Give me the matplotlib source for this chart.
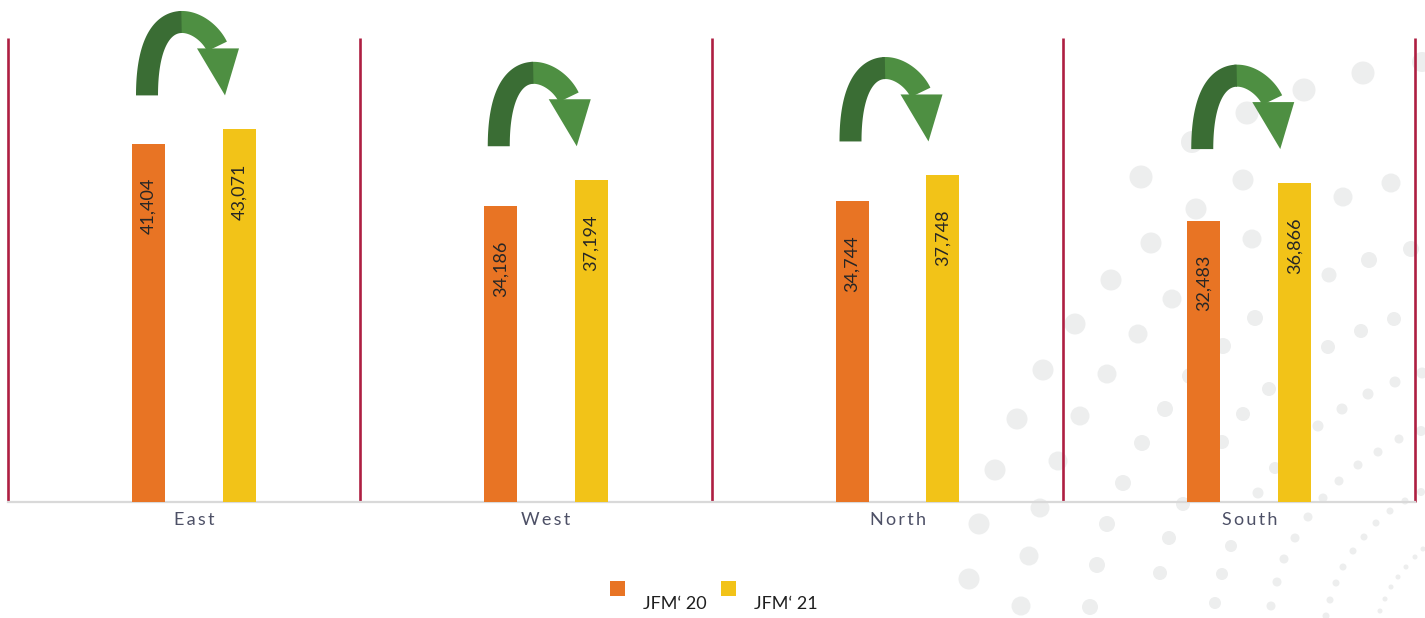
import matplotlib.pyplot as plt
import numpy as np
from matplotlib.patches import Rectangle

plt.rcParams['font.family'] = ['Lato', 'DejaVu Sans']

regions = ['East', 'West', 'North', 'South']
jfm20 = [41404, 34186, 34744, 32483]
jfm21 = [43071, 37194, 37748, 36866]
series_names = ['JFM\u2018 20', 'JFM\u2018 21']

c20 = '#E87424'
c21 = '#F2C318'
line_col = '#AE1F42'
dark_green = '#3A6D34'
light_green = '#4E8F42'
dot_col = '#EDEEEE'

# decorative dots in the background (pixel coords, diameter px)
dots = [
    (1363, 73, 23), (1304, 90, 23), (1247, 113, 23), (1192, 142, 22), (1141, 177, 23),
    (1243, 180, 21), (1343, 197, 19), (1391, 183, 19), (1196, 209, 21), (1151, 243, 21),
    (1252, 239, 19), (1369, 260, 16), (1411, 249, 16), (1111, 280, 21), (1329, 275, 15),
    (1422, 62, 20), (1172, 299, 19), (1075, 324, 21), (1138, 334, 19), (1043, 370, 21),
    (1107, 374, 19), (1017, 419, 21), (1080, 416, 19), (1165, 409, 16), (1223, 346, 16),
    (1255, 318, 16), (1394, 319, 14), (1361, 331, 14), (1328, 347, 14), (1269, 389, 14),
    (1243, 414, 14), (1395, 382, 11), (1368, 394, 11), (1342, 409, 11), (1318, 426, 11),
    (1422, 373, 11), (1421, 431, 10), (1399, 439, 9), (1142, 443, 16), (1190, 376, 16),
    (995, 470, 21), (1058, 461, 19), (1123, 483, 16), (1222, 442, 14), (1275, 468, 12),
    (1258, 493, 11), (1323, 498, 9), (1378, 452, 9), (1358, 465, 9), (1339, 481, 9),
    (1405, 501, 7), (1421, 492, 8), (979, 524, 21), (1040, 508, 19), (1107, 524, 16),
    (1183, 504, 14), (1308, 517, 9), (1295, 538, 9), (1231, 546, 12), (1169, 538, 14),
    (1390, 511, 7), (1376, 523, 7), (1364, 537, 7), (1353, 551, 7), (1343, 567, 7),
    (1336, 583, 7), (1330, 600, 7), (1326, 616, 7), (1415, 557, 5), (1406, 567, 5),
    (1398, 577, 5), (1391, 587, 5), (1385, 599, 5), (1380, 611, 5), (1423, 549, 5),
    (1284, 559, 9), (1277, 582, 9), (1271, 606, 9), (1222, 574, 12), (1215, 603, 12),
    (1160, 573, 14), (1097, 565, 16), (1029, 556, 19), (969, 579, 21), (1021, 606, 19),
    (1090, 607, 16),
]

fig = plt.figure(figsize=(14.25, 6.18), dpi=100)

bg = fig.add_axes([0, 0, 1, 1], zorder=0)
bg.set_xlim(0, 1425)
bg.set_ylim(618, 0)
bg.axis('off')
dx = [d[0] for d in dots]
dy = [d[1] for d in dots]
ds = [(d[2] * 0.72) ** 2 for d in dots]
bg.scatter(dx, dy, s=ds, color=dot_col, linewidths=0)

# legend (hand placed like the original)
for i, (name, col) in enumerate(zip(series_names, [c20, c21])):
    x0 = 610 + i * 111
    bg.add_patch(Rectangle((x0, 581), 15, 15, color=col, lw=0))
    bg.text(x0 + 33, 604, name, fontsize=13, color='#1f1f1f', va='center', ha='left')

ax = fig.add_axes([8 / 1425, 116 / 618, 1407 / 1425, 502 / 618], zorder=1)
ax.patch.set_alpha(0)

ymax = 58030
ux = 1.0 / 351.75          # x data units per pixel
py = ymax / 502.0          # y data units per pixel
x_left = -186 * ux
ax.set_xlim(x_left, x_left + 1407 * ux)
ax.set_ylim(0, ymax)

x = np.arange(len(regions))
w = 0.094
off = 0.129
ax.bar(x - off, jfm20, width=w, color=c20, zorder=3)
ax.bar(x + off, jfm21, width=w, color=c21, zorder=3)

for xi, v1, v2 in zip(x, jfm20, jfm21):
    for xx, v in ((xi - off, v1), (xi + off, v2)):
        ax.annotate(f'{v:,}', (xx, v), xytext=(0, -24.5), textcoords='offset points',
                    rotation=90, ha='center', va='top', fontsize=13, color='#262626', zorder=4)

# separators
ax.vlines(x_left + np.arange(len(regions) + 1), 0, ymax * 0.9243, color=line_col, lw=1.9,
          clip_on=False, zorder=2)


# curved arrow (shape built in pixels, then mapped to data units)
P = np.array([[0, 0], [0, 100], [56, 78], [70, 49]], dtype=float)


def bez(t):
    t = t[:, None]
    return ((1 - t) ** 3 * P[0] + 3 * (1 - t) ** 2 * t * P[1]
            + 3 * (1 - t) * t ** 2 * P[2] + t ** 3 * P[3])


def dbez(t):
    t = t[:, None]
    d = (3 * (1 - t) ** 2 * (P[1] - P[0]) + 6 * (1 - t) * t * (P[2] - P[1])
         + 3 * t ** 2 * (P[3] - P[2]))
    return d / np.linalg.norm(d, axis=1)[:, None]


def body(t0, t1, half=11):
    t = np.linspace(t0, t1, 60)
    c = bez(t)
    tg = dbez(t)
    n = np.column_stack([-tg[:, 1], tg[:, 0]])
    return np.vstack([c + n * half, (c - n * half)[::-1]])


head = np.array([[50, 47], [92, 47], [78, 0]], dtype=float)
shapes = [(body(0.53, 1.0), light_green), (head, light_green), (body(0.0, 0.55), dark_green)]

for xi, v1, v2 in zip(x, jfm20, jfm21):
    x0 = xi - 47 * ux
    y0 = max(v1, v2) + 34 * py
    for shp, col in shapes:
        ax.fill(x0 + shp[:, 0] * ux, y0 + shp[:, 1] * py, color=col, lw=0, zorder=5)

for s in ['top', 'left', 'right']:
    ax.spines[s].set_visible(False)
ax.spines['bottom'].set_color('#D9D9D9')
ax.spines['bottom'].set_linewidth(1.6)
ax.set_yticks([])
ax.set_xticks(x)
ax.set_xticklabels(['\u2009'.join(r) for r in regions], fontsize=13, color='#4D5066')
ax.tick_params(axis='x', length=0, pad=7)

fig.savefig('out.png', dpi=100)
